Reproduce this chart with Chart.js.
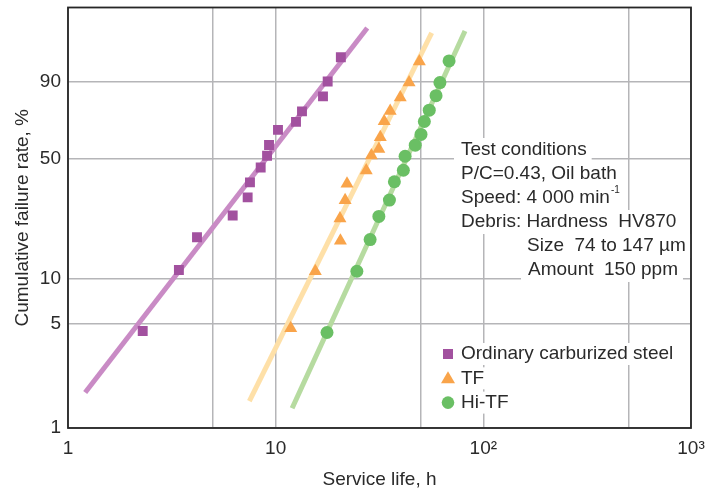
<!DOCTYPE html>
<html>
<head>
<meta charset="utf-8">
<script src="https://cdn.jsdelivr.net/npm/chart.js@4.4.0/dist/chart.umd.min.js"></script>
<style>
  html, body { margin: 0; padding: 0; background: #fff; }
</style>
</head>
<body>
<canvas id="myChart" width="723" height="495"></canvas>
<script>
// service life (h) and cumulative failure rate (%)
const steelLife = [2.29, 3.42, 4.18, 6.21, 7.33, 7.52, 8.47, 9.09, 9.29, 10.26, 12.53, 13.39, 16.9, 17.8, 20.6];
const steelRate = [4.5, 11.3, 18.2, 24.6, 31.3, 37.8, 45.1, 51.4, 57.4, 66.1, 70.7, 76.5, 84.0, 90.1, 96.6];
const tfLife = [11.82, 15.52, 20.5, 20.4, 21.6, 22.06, 27.3, 28.9, 31.4, 31.9, 33.3, 35.6, 39.8, 43.9, 49.2];
const tfRate = [4.7, 11.1, 17.3, 23.6, 30.1, 37.2, 43.6, 51.5, 55.2, 61.8, 71.0, 76.7, 83.4, 89.7, 95.8];
const hiLife = [17.67, 24.6, 28.5, 31.4, 35.3, 37.3, 41.2, 42.0, 47.0, 50.1, 52.0, 54.9, 59.2, 61.8, 68.4];
const hiRate = [4.4, 11.1, 17.6, 24.3, 30.2, 38.1, 43.7, 51.1, 57.3, 63.5, 70.9, 77.1, 84.3, 89.7, 95.9];

// fitted lines, end points
const steelFitLife = [1.21, 27.6];
const steelFitRate = [1.74, 99.53];
const tfFitLife = [7.47, 56.4];
const tfFitRate = [1.52, 99.3];
const hiFitLife = [12.0, 81.6];
const hiFitRate = [1.36, 99.4];

const xTicks = [1, 5, 10, 50, 100, 500, 1000];
const xTickLabels = ['1', '', '10', '', '10²', '', '10³'];
const yTicks = [1, 5, 10, 50, 90];

const conditions = [
  { text: 'Test conditions', x: 461, y: 150 },
  { text: 'P/C=0.43, Oil bath', x: 461, y: 174 },
  { text: 'Speed: 4 000 min', x: 461, y: 198, sup: '-1' },
  { text: 'Debris: Hardness  HV870', x: 461, y: 222 },
  { text: 'Size  74 to 147 µm', x: 527, y: 246 },
  { text: 'Amount  150 ppm', x: 528, y: 270 }
];

const FONT = '"Liberation Sans", Arial, Helvetica, sans-serif';
const TXT = '#2a2a2a';

// Weibull probability scale
const weib = p => Math.log(-Math.log(1 - p / 100));
const pts = (xs, ps) => xs.map((x, i) => ({ x: x, y: weib(ps[i]) }));

const decor = {
  id: 'decor',
  beforeDatasetsDraw(chart) {
    const ctx = chart.ctx;
    const a = chart.chartArea;
    ctx.save();
    ctx.font = '19px ' + FONT;
    ctx.textBaseline = 'middle';
    // conditions text, each line on its own white patch
    conditions.forEach(c => {
      let w = ctx.measureText(c.text).width + (c.sup ? 8 : 0);
      ctx.fillStyle = '#fff';
      ctx.fillRect(c.x - 7, c.y - 12, w + 12, 24);
    });
    conditions.forEach(c => {
      ctx.fillStyle = TXT;
      ctx.font = '19px ' + FONT;
      ctx.fillText(c.text, c.x, c.y);
      if (c.sup) {
        const w = ctx.measureText(c.text).width;
        ctx.font = '10px ' + FONT;
        ctx.fillText(c.sup, c.x + w + 1, c.y - 8);
      }
    });

    // legend
    ctx.font = '19px ' + FONT;
    const sets = chart.data.datasets.slice(0, 3);
    sets.forEach((d, i) => {
      const y = 354 + i * 24.3;
      const w = ctx.measureText(d.label).width;
      ctx.fillStyle = '#fff';
      ctx.fillRect(438, y - 11, w + 34, 22);
    });
    sets.forEach((d, i) => {
      const y = 354 + i * 24.3;
      const mx = 448;
      ctx.fillStyle = d.backgroundColor;
      ctx.beginPath();
      if (d.pointStyle === 'rect') {
        ctx.rect(mx - 5, y - 5, 10, 10);
      } else if (d.pointStyle === 'triangle') {
        ctx.moveTo(mx, y - 7);
        ctx.lineTo(mx + 7, y + 5);
        ctx.lineTo(mx - 7, y + 5);
        ctx.closePath();
      } else {
        ctx.arc(mx, y, 6.3, 0, Math.PI * 2);
      }
      ctx.fill();
      ctx.fillStyle = TXT;
      ctx.fillText(d.label, 461, y);
    });

    // frame
    ctx.strokeStyle = '#262626';
    ctx.lineWidth = 1.8;
    ctx.strokeRect(a.left, a.top, a.right - a.left, a.bottom - a.top);
    ctx.restore();
  }
};

const ctx = document.getElementById('myChart').getContext('2d');
const myChart = new Chart(ctx, {
  type: 'scatter',
  data: {
    datasets: [
      { label: 'Ordinary carburized steel', data: pts(steelLife, steelRate), pointStyle: 'rect',
        pointRadius: 7, backgroundColor: '#a2519f', borderWidth: 0 },
      { label: 'TF', data: pts(tfLife, tfRate), pointStyle: 'triangle',
        pointRadius: 7.5, backgroundColor: '#f9a44a', borderWidth: 0 },
      { label: 'Hi-TF', data: pts(hiLife, hiRate), pointStyle: 'circle',
        pointRadius: 6.5, backgroundColor: '#6abf64', borderWidth: 0 },
      { label: 'steel fit', data: pts(steelFitLife, steelFitRate), showLine: true, pointRadius: 0,
        borderColor: '#c98bc5', borderWidth: 5 },
      { label: 'TF fit', data: pts(tfFitLife, tfFitRate), showLine: true, pointRadius: 0,
        borderColor: '#fee0a8', borderWidth: 5 },
      { label: 'Hi-TF fit', data: pts(hiFitLife, hiFitRate), showLine: true, pointRadius: 0,
        borderColor: '#b6dba0', borderWidth: 5 }
    ]
  },
  options: {
    responsive: false,
    animation: false,
    events: [],
    layout: { padding: { top: 5, right: 32, left: 0, bottom: 0 } },
    plugins: { legend: { display: false }, tooltip: { enabled: false } },
    scales: {
      x: {
        type: 'logarithmic',
        min: 1,
        max: 1000,
        afterBuildTicks: s => { s.ticks = xTicks.map(v => ({ value: v })); },
        afterFit: s => { s.height = 67; },
        grid: { color: '#b5b5b8', lineWidth: 1.5, drawTicks: false },
        border: { display: false },
        ticks: {
          autoSkip: false, maxRotation: 0, padding: 9, color: TXT,
          font: { family: FONT, size: 19 },
          callback: v => xTickLabels[xTicks.indexOf(v)]
        },
        title: {
          display: true, text: 'Service life, h', color: TXT,
          font: { family: FONT, size: 19 }, padding: { top: 0, bottom: 4 }
        }
      },
      y: {
        type: 'linear',
        min: weib(1),
        max: 2.0,
        afterBuildTicks: s => { s.ticks = yTicks.map(p => ({ value: weib(p) })); },
        afterFit: s => { s.width = 68; s.paddingTop = 0; s.paddingBottom = 0; },
        grid: { color: '#b5b5b8', lineWidth: 1.5, drawTicks: false },
        border: { display: false },
        ticks: {
          autoSkip: false, padding: 7, color: TXT,
          font: { family: FONT, size: 19 },
          callback: (v, i) => String(yTicks[i])
        },
        title: {
          display: true, text: 'Cumulative failure rate, %', color: TXT,
          font: { family: FONT, size: 19 }, padding: { top: 11, bottom: 0 }
        }
      }
    }
  },
  plugins: [decor]
});
</script>
</body>
</html>
